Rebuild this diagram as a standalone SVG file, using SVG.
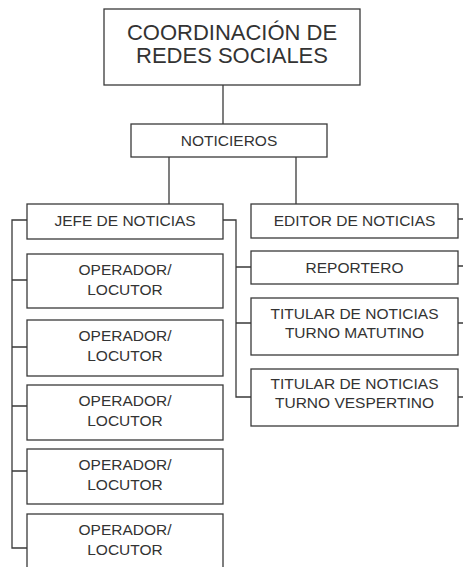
<svg xmlns="http://www.w3.org/2000/svg" width="463" height="567" viewBox="0 0 463 567">
<style>
.box{fill:#fff;stroke:#3a3a3a;stroke-width:1.3}
.ln{fill:none;stroke:#3a3a3a;stroke-width:1.3}
text{font-family:"Liberation Sans",Arial,sans-serif;font-size:15.5px;fill:#333;text-anchor:middle}
.big{font-size:22px}
</style>
<rect width="463" height="567" fill="#fff"/>
<g id="connectors" class="ln">
<path d="M223 85V124"/>
<path d="M169 157V204"/>
<path d="M296 157V204"/>
<path d="M27 220H12V548H27"/>
<path d="M12 280H27M12 347H27M12 406H27M12 471H27"/>
<path d="M223 220H236V397H251"/>
<path d="M236 267H251M236 323H251"/>
<path d="M458 219H463M458 266H463M458 323H463M458 397H463"/>
</g>
<g id="coordinacion"><rect class="box" x="104" y="9" width="256" height="76"/>
<text class="big" x="232" y="39.5">COORDINACIÓN DE</text><text class="big" x="232" y="62.5">REDES SOCIALES</text></g>
<g id="noticieros"><rect class="box" x="131" y="124" width="196" height="33"/><text x="229" y="145.5">NOTICIEROS</text></g>
<g id="jefe"><rect class="box" x="27" y="204" width="196" height="35"/><text x="125" y="225.5">JEFE DE NOTICIAS</text></g>
<g id="op1"><rect class="box" x="27" y="254" width="196" height="54"/><text x="125" y="274.5">OPERADOR/</text><text x="125" y="295">LOCUTOR</text></g>
<g id="op2"><rect class="box" x="27" y="320" width="196" height="56"/><text x="125" y="340.5">OPERADOR/</text><text x="125" y="361">LOCUTOR</text></g>
<g id="op3"><rect class="box" x="27" y="385" width="196" height="55"/><text x="125" y="405.5">OPERADOR/</text><text x="125" y="426">LOCUTOR</text></g>
<g id="op4"><rect class="box" x="27" y="449" width="196" height="55"/><text x="125" y="469.5">OPERADOR/</text><text x="125" y="490">LOCUTOR</text></g>
<g id="op5"><rect class="box" x="27" y="514" width="196" height="70"/><text x="125" y="534.5">OPERADOR/</text><text x="125" y="555">LOCUTOR</text></g>
<g id="editor"><rect class="box" x="251" y="204" width="207" height="34"/><text x="354.5" y="226">EDITOR DE NOTICIAS</text></g>
<g id="reportero"><rect class="box" x="251" y="251" width="207" height="33"/><text x="354.5" y="272.5">REPORTERO</text></g>
<g id="matutino"><rect class="box" x="251" y="298" width="207" height="57"/><text x="354.5" y="318.5">TITULAR DE NOTICIAS</text><text x="354.5" y="337.5">TURNO MATUTINO</text></g>
<g id="vespertino"><rect class="box" x="251" y="369" width="207" height="57"/><text x="354.5" y="389">TITULAR DE NOTICIAS</text><text x="354.5" y="408">TURNO VESPERTINO</text></g>
</svg>
